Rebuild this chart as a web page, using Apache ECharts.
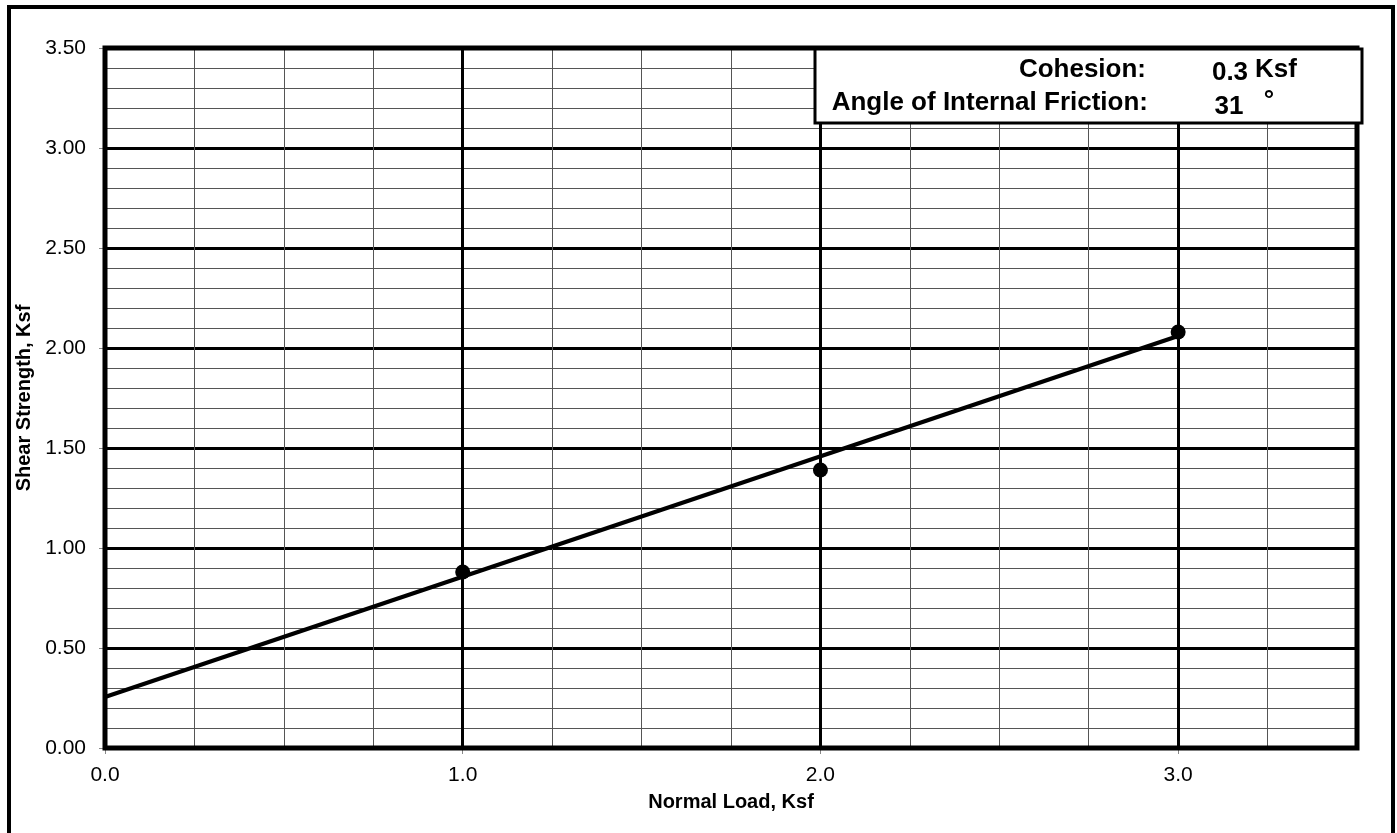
<!DOCTYPE html>
<html><head><meta charset="utf-8">
<script src="https://cdn.jsdelivr.net/npm/echarts@6/dist/echarts.min.js"></script>
<style>html,body{margin:0;padding:0;background:#fff}#c{width:1397px;height:833px}</style>
</head><body><div id="c"></div>
<script>
const testLoads = [1.0, 2.0, 3.0];
const testShear = [0.88, 1.39, 2.08];
const fitX = [0.0, 3.0];
const fitY = [0.255, 2.06];
const cohesion = '0.3';
const frictionAngle = '31';
const xTicks = [0, 1, 2, 3];

const chart = echarts.init(document.getElementById('c'));
const F = 'Arial, "Liberation Sans", sans-serif';
chart.setOption({
  animation: false,
  backgroundColor: '#fff',
  grid: {left: 105, top: 48, width: 1252, height: 700, show: true, borderColor: '#000', borderWidth: 5, backgroundColor: 'transparent', z: 3},
  xAxis: {
    type: 'value', min: 0, max: 3.5, interval: 1,
    name: 'Normal Load, Ksf', nameLocation: 'middle', nameGap: 44,
    nameTextStyle: {fontFamily: F, fontWeight: 'bold', fontSize: 20, color: '#000'},
    axisLine: {show: false},
    axisTick: {show: true, length: 6, lineStyle: {color: '#888', width: 1}},
    axisLabel: {fontFamily: F, fontSize: 21, color: '#000', margin: 17, showMaxLabel: false,
      formatter: v => xTicks.indexOf(v) >= 0 ? v.toFixed(1) : ''},
    splitLine: {show: true, lineStyle: {color: '#000', width: 3}},
    minorTick: {show: false, splitNumber: 4},
    minorSplitLine: {show: true, lineStyle: {color: '#555', width: 1}}
  },
  yAxis: {
    type: 'value', min: 0, max: 3.5, interval: 0.5,
    name: 'Shear Strength, Ksf', nameLocation: 'middle', nameGap: 63,
    nameTextStyle: {fontFamily: F, fontWeight: 'bold', fontSize: 20, color: '#000'},
    axisLine: {show: false},
    axisTick: {show: true, length: 6, lineStyle: {color: '#888', width: 1}},
    axisLabel: {fontFamily: F, fontSize: 21, color: '#000', margin: 19, formatter: v => v.toFixed(2)},
    splitLine: {show: true, lineStyle: {color: '#000', width: 3}},
    minorTick: {show: false, splitNumber: 5},
    minorSplitLine: {show: true, lineStyle: {color: '#555', width: 1}}
  },
  series: [
    {type: 'line', data: fitX.map((x, i) => [x, fitY[i]]), symbol: 'none',
     lineStyle: {color: '#000', width: 4}, z: 4},
    {type: 'scatter', data: testLoads.map((x, i) => [x, testShear[i]]), symbol: 'circle', symbolSize: 15,
     itemStyle: {color: '#000', opacity: 1}, z: 5}
  ],
  graphic: [
    {type: 'rect', shape: {x: 9, y: 7, width: 1384, height: 845}, style: {fill: 'none', stroke: '#000', lineWidth: 4}, z: 10},
    {type: 'rect', shape: {x: 815, y: 49, width: 547, height: 74}, style: {fill: '#fff', stroke: '#000', lineWidth: 3}, z: 20},
    {type: 'text', x: 1146, y: 70, style: {text: 'Cohesion:', font: 'bold 26px ' + F, fill: '#000', align: 'right', verticalAlign: 'middle'}, z: 21},
    {type: 'text', x: 1148, y: 103, style: {text: 'Angle of Internal Friction:', font: 'bold 26px ' + F, fill: '#000', align: 'right', verticalAlign: 'middle'}, z: 21},
    {type: 'text', x: 1230, y: 73, style: {text: cohesion, font: 'bold 26px ' + F, fill: '#000', align: 'center', verticalAlign: 'middle'}, z: 21},
    {type: 'text', x: 1255, y: 70, style: {text: 'Ksf', font: 'bold 26px ' + F, fill: '#000', align: 'left', verticalAlign: 'middle'}, z: 21},
    {type: 'text', x: 1229, y: 107, style: {text: frictionAngle, font: 'bold 26px ' + F, fill: '#000', align: 'center', verticalAlign: 'middle'}, z: 21},
    {type: 'text', x: 1269, y: 101, style: {text: '°', font: 'bold 26px ' + F, fill: '#000', align: 'center', verticalAlign: 'middle'}, z: 21}
  ]
});
</script></body></html>
